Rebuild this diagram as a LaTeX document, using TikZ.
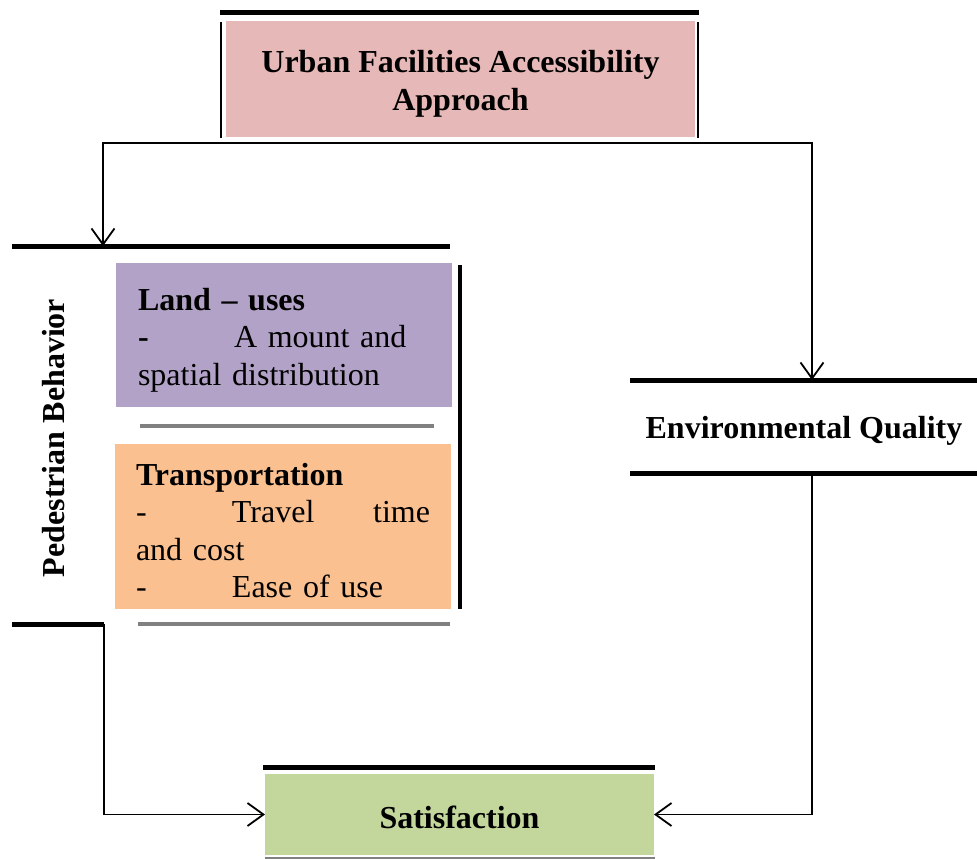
\documentclass[tikz,border=0pt]{standalone}
\usepackage{fontspec}
\setmainfont{Liberation Serif}
\usetikzlibrary{arrows.meta}

\definecolor{pinkfill}{HTML}{E6B8B7}
\definecolor{lilacfill}{HTML}{B2A2C7}
\definecolor{orangefill}{HTML}{FAC090}
\definecolor{greenfill}{HTML}{C3D69B}
\definecolor{rulegray}{HTML}{808080}

\tikzset{
  panel/.style={anchor=north west, inner sep=0pt, outer sep=0pt},
  bar/.style={line width=5pt},
  thinrule/.style={line width=2pt},
  grayrule/.style={line width=4pt, draw=rulegray},
  conn/.style={line width=1.8pt, -{Straight Barb[length=16pt,width=23pt,line width=1.8pt]}},
  txt/.style={font=\fontsize{32}{37.5}\selectfont, inner sep=0pt},
}

\begin{document}
\begin{tikzpicture}[x=1pt,y=-1pt]
\useasboundingbox (0,0) rectangle (977,859);

% --- Urban Facilities Accessibility Approach ---
\node[panel, fill=pinkfill, minimum width=469pt, minimum height=116pt] (ufa) at (226,21) {};
\node[txt, align=center] (ufaText) at ([yshift=-5pt]ufa.center)
  {\textbf{Urban Facilities Accessibility}\\\textbf{Approach}};
\draw[bar] (220,13) -- (699,13);
\draw[thinrule] (221,22) -- (221,138);
\draw[thinrule] (698,22) -- (698,138);

% --- Pedestrian Behavior group ---
\coordinate (pedTop) at (103,246);
\draw[bar] (12,246) -- (450,246);
\node[txt, rotate=90] (ped) at (54,438) {\textbf{Pedestrian Behavior}};

\node[panel, fill=lilacfill, minimum width=336pt, minimum height=144pt] (land) at (116,263) {};
\node[txt, align=left, text width=293pt] (landText) at ([xshift=0.5pt,yshift=-5pt]land.center)
  {\textbf{Land -- uses}\\
   \makebox[96pt][l]{\textbf{-}}A mount and\\
   spatial distribution};
\draw[grayrule] (140,426) -- (434,426);

\node[panel, fill=orangefill, minimum width=336pt, minimum height=165pt] (trans) at (115,444) {};
\node[txt, align=left, text width=294pt] (transText) at ([yshift=-4pt]trans.center)
  {\textbf{Transportation}\\
   \leavevmode\hbox to 294pt{\makebox[96pt][l]{-}Travel\hfill time}\\
   and cost\\
   \makebox[96pt][l]{-}Ease of use};
\draw[grayrule] (138,624) -- (450,624);
\draw[line width=4pt] (460,265) -- (460,609);

\coordinate (pedOut) at (104,624);
\draw[bar] (12,624) -- (pedOut);

% --- Environmental Quality ---
\coordinate (envTop) at (812,380);
\coordinate (envOut) at (812,475);
\draw[bar] (630,380) -- (977,380);
\draw[bar] (630,473) -- (977,473);
\node[txt] (env) at (804,431) {\textbf{Environmental Quality}};

% --- Satisfaction ---
\node[panel, fill=greenfill, minimum width=389pt, minimum height=81pt] (sat) at (265,774) {};
\node[txt] (satText) at ([yshift=-3pt]sat.center) {\textbf{Satisfaction}};
\draw[bar] (263,767) -- (655,767);
\draw[line width=1.5pt, draw=rulegray] (265,858) -- (655,858);

% --- Connectors ---
\coordinate (split) at (457,143);
\draw[conn] (split) -| (pedTop);
\draw[conn] (split) -| (envTop);
\draw[conn] (pedOut) |- (sat.west);
\draw[conn] (envOut) |- (sat.east);
\end{tikzpicture}
\end{document}
